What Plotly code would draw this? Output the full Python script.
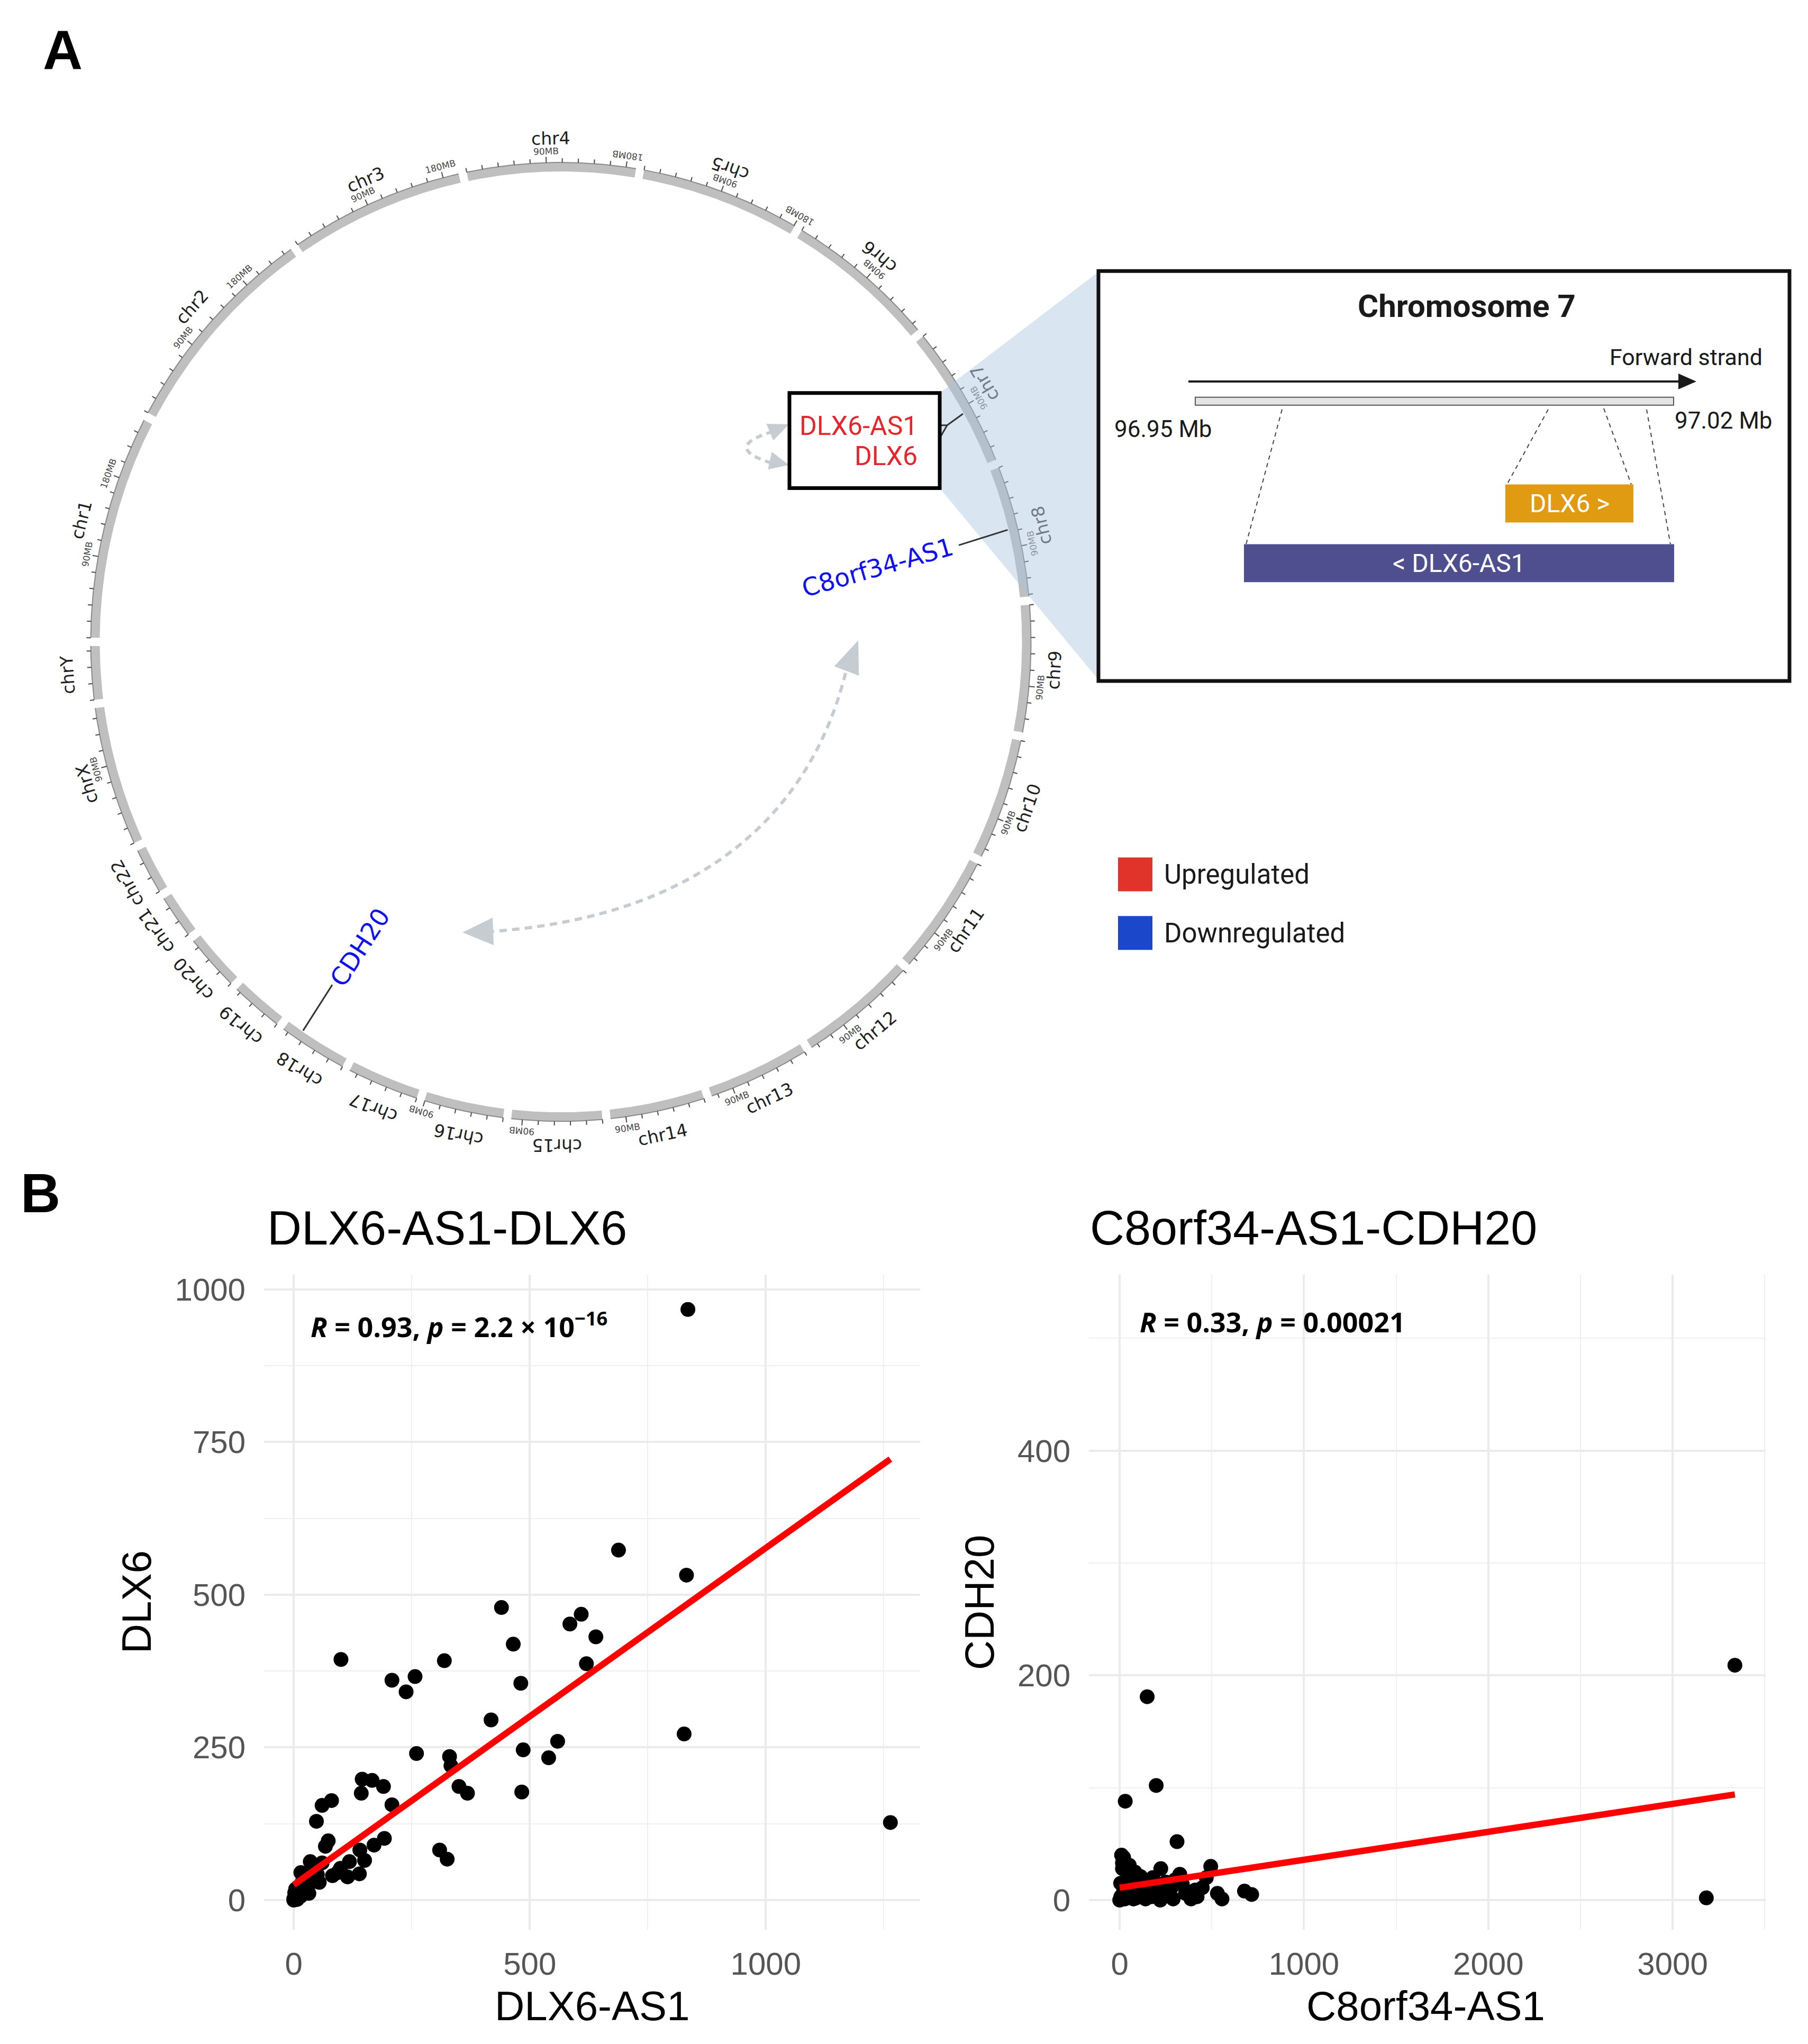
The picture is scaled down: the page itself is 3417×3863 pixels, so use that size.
import math
import numpy as np
import plotly.graph_objects as go

W, H = 3417, 3863
OFF = 8                      # default page body margin
FW, FH = W - 2 * OFF, H - 2 * OFF

# ---------------------------------------------------------------- data
chrom_names = [f"chr{i}" for i in range(1, 23)] + ["chrX", "chrY"]
chrom_len_mb = [249.3, 243.2, 198.0, 191.2, 180.9, 171.1, 159.1, 146.4, 141.2, 135.5,
                135.0, 133.9, 115.2, 107.3, 102.5, 90.4, 81.2, 78.1, 59.1, 63.0,
                48.1, 51.3, 155.3, 59.4]
axis_minor_step_mb = 18
axis_label_mb = [90, 180]

gene_labels = ["DLX6-AS1", "DLX6", "C8orf34-AS1", "CDH20"]
gene_chrom = ["chr7", "chr7", "chr8", "chr18"]
gene_pos_mb = [96.95, 97.0, 69.3, 59.0]
gene_regulation = ["Upregulated", "Upregulated", "Downregulated", "Downregulated"]

legend_labels = ["Upregulated", "Downregulated"]
legend_colors = ["#e0342b", "#1b48cb"]
label_colors = {"Upregulated": "#e5262d", "Downregulated": "#1010ee"}

inset_title = "Chromosome 7"
inset_strand = "Forward strand"
inset_start_label = "96.95 Mb"
inset_end_label = "97.02 Mb"
inset_gene_labels = ["DLX6 >", "< DLX6-AS1"]

# panel B, left: DLX6-AS1 vs DLX6
dlx6as1 = [835, 688, 832, 440, 609, 585, 640, 465, 620, 100, 319, 481, 208, 257, 238,
           418, 827, 559, 260, 486, 540, 330, 333, 350, 368, 483, 145, 166, 190, 143,
           208, 80, 60, 48, 73, 67, 192, 170, 1264, 309, 325, 140, 150, 118, 139,
           82, 93, 60, 35, 15, 45, 32, 9, 0, 3, 0, 22, 9, 54, 99, 114,
           5, 12, 18, 26, 40, 2, 7, 14, 30, 38, 50, 4, 20]
dlx6 = [967, 573, 532, 479, 468, 452, 431, 419, 387, 394, 392, 355, 360, 366, 341,
        295, 272, 260, 240, 246, 233, 235, 220, 186, 175, 177, 198, 196, 186, 175,
        156, 163, 155, 129, 97, 88, 101, 90, 127, 82, 67, 82, 65, 63, 43,
        40, 45, 61, 63, 45, 47, 11, 9, 2, 8, 0, 25, 20, 29, 52, 38,
        4, 14, 30, 38, 50, 12, 1, 6, 22, 34, 42, 18, 10]
left_fit_x = [0, 1264]
left_fit_y = [25, 722]
left_title = "DLX6-AS1-DLX6"
left_xlabel, left_ylabel = "DLX6-AS1", "DLX6"
left_stat = "<b><i>R</i> = 0.93, <i>p</i> = 2.2 × 10<sup>−16</sup></b>"
left_xticks = [0, 500, 1000]
left_yticks = [0, 250, 500, 750, 1000]

# panel B, right: C8orf34-AS1 vs CDH20
c8orf34as1 = [3338, 3183, 149, 198, 30, 311, 21, 223, 494, 326, 677, 716, 555, 530, 387,
              448, 113, 158, 52, 67, 174, 235, 280, 357, 6, 21, 37, 82, 0, 10,
              15, 45, 90, 130, 200, 260, 300, 410, 95, 60, 120, 180, 250, 340, 5,
              28, 75, 140, 220, 290, 420, 470, 15]
cdh20 = [209, 2, 181, 102, 88, 52, 38, 28, 30, 23, 8, 5, 1, 6, 1,
         11, 21, 16, 31, 11, 3, 8, 11, 6, 3, 8, 18, 25, 0, 40,
         28, 6, 2, 9, 14, 4, 18, 9, 15, 22, 4, 20, 16, 14, 15,
         1, 1, 1, 0, 1, 3, 20, 33]
right_fit_x = [0, 3338]
right_fit_y = [11, 94]
right_title = "C8orf34-AS1-CDH20"
right_xlabel, right_ylabel = "C8orf34-AS1", "CDH20"
right_stat = "<b><i>R</i> = 0.33, <i>p</i> = 0.00021</b>"
right_xticks = [0, 1000, 2000, 3000]
right_yticks = [0, 200, 400]

# ---------------------------------------------------------------- geometry (page pixels)
CX, CY, RX, RY = 1060.0, 1209.0, 880.0, 899.0
HALF_W = 8.5
GAP = 1.0
DPM = (360.0 - GAP * len(chrom_len_mb)) / sum(chrom_len_mb)
starts = []
_a = 180.0 - GAP / 2
for L in chrom_len_mb:
    starts.append(_a)
    _a = _a - L * DPM - GAP


def phi_of(ci, mb):
    return starts[ci] - mb * DPM


def ell(phi, off):
    r = math.radians(phi)
    return CX + (RX + off) * math.cos(r), CY - (RY + off) * math.sin(r)


def label_angle(phi):
    p = (phi + 180) % 360 - 180
    a = 270 - p if -90 < p < 90 else 90 - p
    return (a + 180) % 360 - 180


SHADE = [(1776, 738), (2078, 507), (2078, 1283), (1776, 918)]


def inside(pt, poly):
    x, y = pt
    c = False
    n = len(poly)
    for i in range(n):
        x1, y1 = poly[i]
        x2, y2 = poly[(i + 1) % n]
        if (y1 > y) != (y2 > y):
            xi = x1 + (y - y1) * (x2 - x1) / (y2 - y1)
            if x < xi:
                c = not c
    return c


fig = go.Figure()


def px_trace(**kw):
    fig.add_trace(go.Scatter(xaxis="x3", yaxis="y3", hoverinfo="skip",
                             showlegend=False, **kw))


ring_x, ring_y, edge_x, edge_y, tick_x, tick_y = [], [], [], [], [], []
annotations = []
for ci, L in enumerate(chrom_len_mb):
    mbs = np.linspace(0, L, 60)
    outer = [ell(phi_of(ci, m), HALF_W) for m in mbs]
    inner = [ell(phi_of(ci, m), -HALF_W) for m in mbs[::-1]]
    poly = outer + inner + [outer[0]]
    ring_x += [p[0] for p in poly] + [None]
    ring_y += [p[1] for p in poly] + [None]
    edge_x += [p[0] for p in outer] + [None]
    edge_y += [p[1] for p in outer] + [None]
    for m in np.arange(0, L, axis_minor_step_mb):
        ph = phi_of(ci, m)
        ln = 11 if int(round(m)) in axis_label_mb else 8
        p0, p1 = ell(ph, HALF_W), ell(ph, HALF_W + ln)
        tick_x += [p0[0], p1[0], None]
        tick_y += [p0[1], p1[1], None]
    for m in axis_label_mb:
        if m < L:
            ph = phi_of(ci, m)
            pos = ell(ph, 30)
            col = "#8d96a0" if inside(pos, SHADE) else "#454545"
            annotations.append(dict(x=pos[0], y=pos[1], xref="x3", yref="y3",
                                    text=f"{m}MB", showarrow=False,
                                    textangle=label_angle(ph),
                                    xanchor="center", yanchor="middle",
                                    font=dict(family="DejaVu Sans", size=17, color=col)))
    ph = phi_of(ci, L / 2)
    pos = ell(ph, 54)
    col = "#6f7a86" if inside(pos, SHADE) else "#1e1e1e"
    annotations.append(dict(x=pos[0], y=pos[1], xref="x3", yref="y3",
                            text=chrom_names[ci], showarrow=False,
                            textangle=label_angle(ph),
                            xanchor="center", yanchor="middle",
                            font=dict(family="DejaVu Sans", size=33, color=col)))

px_trace(x=ring_x, y=ring_y, mode="lines", fill="toself", fillcolor="#bfbfbf",
         line=dict(width=0, color="rgba(0,0,0,0)"))
px_trace(x=edge_x, y=edge_y, mode="lines", line=dict(width=2, color="#8a8a8a"))
px_trace(x=tick_x, y=tick_y, mode="lines", line=dict(width=2, color="#4a4a4a"))

# ---------------------------------------------------------------- shapes
shapes = []


def sh(**kw):
    d = dict(xref="x3", yref="y3", layer="above")
    d.update(kw)
    shapes.append(d)


def arrowhead(tip, base, width, color):
    tx, ty = tip
    bx, by = base
    dx, dy = tx - bx, ty - by
    n = math.hypot(dx, dy)
    px_, py_ = -dy / n * width / 2, dx / n * width / 2
    path = (f"M {tx},{ty} L {bx + px_},{by + py_} L {bx - px_},{by - py_} Z")
    sh(type="path", path=path, fillcolor=color, line=dict(width=0))


# dashed interaction arrows
ARROW_COL = "#c5ccd2"
sh(type="path", path="M 1598,1268 C 1555,1440 1420,1720 932,1757",
   line=dict(color=ARROW_COL, width=6, dash="14px,10px"))
arrowhead((1622, 1206), (1600, 1264), 50, ARROW_COL)
arrowhead((874, 1759), (932, 1757), 52, ARROW_COL)
sh(type="path", path="M 1460,811 Q 1362,841 1460,871",
   line=dict(color=ARROW_COL, width=6, dash="12px,9px"))
arrowhead((1491, 797), (1455, 812), 34, ARROW_COL)
arrowhead((1491, 874), (1455, 866), 34, ARROW_COL)

# zoom shading
sh(type="path", path="M " + " L ".join(f"{x},{y}" for x, y in SHADE) + " Z",
   fillcolor="rgba(165,192,220,0.42)", line=dict(width=0))

# gene link lines
LINK = dict(color="#333333", width=3)
gphi = [phi_of(chrom_names.index(c), p) for c, p in zip(gene_chrom, gene_pos_mb)]
p_dlx = ell(gphi[0], -HALF_W - 2)
sh(type="path", path=f"M 1752,799 L 1790,799 L {p_dlx[0]},{p_dlx[1]}", line=LINK)
sh(type="path", path="M 1752,843 L 1771,832 L 1790,799", line=LINK)
p_c8 = ell(gphi[2], -HALF_W - 2)
sh(type="line", x0=1812, y0=1026, x1=p_c8[0], y1=p_c8[1], line=LINK)
p_cdh = ell(gphi[3], -HALF_W - 2)
sh(type="line", x0=628, y0=1858, x1=p_cdh[0], y1=p_cdh[1], line=LINK)

# small gene box
sh(type="rect", x0=1492, y0=738, x1=1776, y1=918, fillcolor="white",
   line=dict(color="black", width=7))

# inset box
sh(type="rect", x0=2076, y0=507, x1=3382, y1=1283, fillcolor="white",
   line=dict(color="#111111", width=7))
sh(type="line", x0=2246, y0=716, x1=3180, y1=716, line=dict(color="#1a1a1a", width=4))
sh(type="path", path="M 3206,716 L 3172,701 L 3172,731 Z", fillcolor="#1a1a1a",
   line=dict(width=0))
sh(type="rect", x0=2259, y0=746, x1=3163, y1=761, fillcolor="#e4e4e4",
   line=dict(color="#555555", width=2))
DASH = dict(color="#444444", width=2, dash="8px,7px")
sh(type="line", x0=2423, y0=769, x1=2355, y1=1024, line=DASH)
sh(type="line", x0=2926, y0=769, x1=2848, y1=911, line=DASH)
sh(type="line", x0=3031, y0=767, x1=3083, y1=911, line=DASH)
sh(type="line", x0=3112, y0=769, x1=3157, y1=1024, line=DASH)
sh(type="rect", x0=2845, y0=911, x1=3087, y1=983, fillcolor="#e09b12", line=dict(width=0))
sh(type="rect", x0=2351, y0=1024, x1=3164, y1=1096, fillcolor="#4f4e8f", line=dict(width=0))

# legend squares
sh(type="rect", x0=2113, y0=1617, x1=2178, y1=1681, fillcolor=legend_colors[0],
   line=dict(width=0))
sh(type="rect", x0=2113, y0=1728, x1=2178, y1=1792, fillcolor=legend_colors[1],
   line=dict(width=0))


def ann(x, y, text, size, family="Roboto", color="#1a1a1a", xanchor="center",
        yanchor="middle", angle=0):
    annotations.append(dict(x=x, y=y, xref="x3", yref="y3", text=text, showarrow=False,
                            xanchor=xanchor, yanchor=yanchor, textangle=angle,
                            font=dict(family=family, size=size, color=color)))


# gene labels
ann(1736, 800, gene_labels[0], 50, color=label_colors[gene_regulation[0]], xanchor="right")
ann(1736, 857, gene_labels[1], 50, color=label_colors[gene_regulation[1]], xanchor="right")
ann(1658, 1068, gene_labels[2], 47, family="DejaVu Sans",
    color=label_colors[gene_regulation[2]], angle=-16)
ann(680, 1787, gene_labels[3], 47, family="DejaVu Sans",
    color=label_colors[gene_regulation[3]], angle=-57)

# inset texts
ann(2772, 573, f"<b>{inset_title}</b>", 60)
ann(3333, 670, inset_strand, 43, xanchor="right")
ann(2198, 806, inset_start_label, 44)
ann(3257, 790, inset_end_label, 44)
ann(2966, 947, inset_gene_labels[0], 48, color="white")
ann(2757, 1060, inset_gene_labels[1], 48, color="white")

# legend texts
ann(2198, 1649, legend_labels[0], 51, xanchor="left")
ann(2198, 1760, legend_labels[1], 51, xanchor="left")

# panel letters
ann(118, 88, "<b>A</b>", 104, family="Liberation Sans", color="black")
ann(76, 2252, "<b>B</b>", 104, family="Liberation Sans", color="black")

# ---------------------------------------------------------------- scatter panels
LP = (499, 1739, 2407, 3647)
RP = (2058, 3337, 2407, 3647)


def dom(p):
    return ([(p[0] - OFF) / FW, (p[1] - OFF) / FW],
            [1 - (p[3] - OFF) / FH, 1 - (p[2] - OFF) / FH])


fig.add_trace(go.Scatter(x=dlx6as1, y=dlx6, mode="markers", xaxis="x", yaxis="y",
                         marker=dict(color="black", size=28), showlegend=False))
fig.add_trace(go.Scatter(x=left_fit_x, y=left_fit_y, mode="lines", xaxis="x", yaxis="y",
                         line=dict(color="#ff0000", width=12), showlegend=False))
fig.add_trace(go.Scatter(x=c8orf34as1, y=cdh20, mode="markers", xaxis="x2", yaxis="y2",
                         marker=dict(color="black", size=28), showlegend=False))
fig.add_trace(go.Scatter(x=right_fit_x, y=right_fit_y, mode="lines", xaxis="x2", yaxis="y2",
                         line=dict(color="#ff0000", width=12), showlegend=False))

TICKFONT = dict(family="Liberation Sans, Arial", size=60, color="#555555")


def axis(domain, rng, tickvals, minor_vals, anchor, standoff):
    return dict(domain=domain, range=rng, tickvals=tickvals, ticktext=[str(t) for t in tickvals],
                showline=False, zeroline=False, showgrid=True, gridcolor="#ebebeb",
                gridwidth=4, ticks="", tickfont=TICKFONT, anchor=anchor,
                ticklabelstandoff=standoff, fixedrange=True,
                minor=dict(tickvals=minor_vals, showgrid=True, gridcolor="#efefef",
                           gridwidth=2, ticks=""))


ldx, ldy = dom(LP)
rdx, rdy = dom(RP)
TFONT = "Liberation Sans, Arial"
ann(503, 2319, left_title, 90, family=TFONT, color="black", xanchor="left")
ann(2058, 2319, right_title, 90, family=TFONT, color="black", xanchor="left")
ann(1119, 3791, left_xlabel, 78, family=TFONT, color="black")
ann(258, 3027, left_ylabel, 78, family=TFONT, color="black", angle=-90)
ann(2694, 3791, right_xlabel, 78, family=TFONT, color="black")
ann(1851, 3027, right_ylabel, 78, family=TFONT, color="black", angle=-90)
ann(585, 2502, left_stat, 52, family="Open Sans", color="black", xanchor="left")
ann(2152, 2495, right_stat, 52, family="Open Sans", color="black", xanchor="left")

fig.update_layout(
    width=FW, height=FH, margin=dict(l=0, r=0, t=0, b=0),
    paper_bgcolor="white", plot_bgcolor="rgba(0,0,0,0)", showlegend=False,
    xaxis=axis(ldx, [-63, 1327], left_xticks, [250, 750, 1250], "y", 24),
    yaxis=axis(ldy, [-48.75, 1023.75], left_yticks, [125, 375, 625, 875], "x", 34),
    xaxis2=axis(rdx, [-167, 3505], right_xticks, [500, 1500, 2500, 3500], "y2", 24),
    yaxis2=axis(rdy, [-26.5, 556.5], right_yticks, [100, 300, 500], "x2", 34),
    xaxis3=dict(domain=[0, 1], range=[OFF, OFF + FW], visible=False, anchor="y3",
                fixedrange=True),
    yaxis3=dict(domain=[0, 1], range=[OFF + FH, OFF], visible=False, anchor="x3",
                fixedrange=True),
    shapes=shapes, annotations=annotations,
)

fig.write_html("out.html")
